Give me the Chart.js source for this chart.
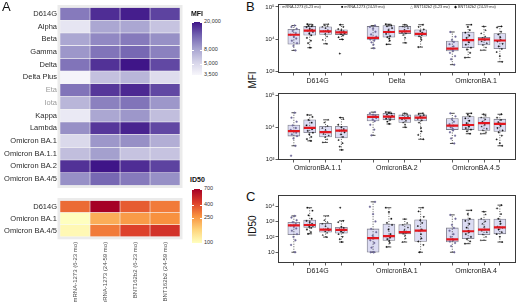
<!DOCTYPE html>
<html>
<head>
<meta charset="utf-8">
<script src="https://cdn.jsdelivr.net/npm/chart.js@4.4.1/dist/chart.umd.min.js"></script>
<style>
  html,body{margin:0;padding:0;background:#fff;}
  #wrap{position:relative;width:520px;height:302px;overflow:hidden;font-family:"Liberation Sans",Arial,sans-serif;color:#222;}
  canvas{position:absolute;}
  .t{position:absolute;white-space:nowrap;line-height:1;}
  .lab{font-size:13px;color:#111;}
  .ytit{font-size:10px;color:#111;transform:translate(-50%,-50%) rotate(-90deg);}
  .ltit{font-size:7px;font-weight:bold;color:#111;}
  .ctk{font-size:5.5px;color:#333;}
  .leg{font-size:3.8px;color:#333;top:5.5px;}
  .cbar{position:absolute;width:10px;}
</style>
</head>
<body>
<div id="wrap">
  <canvas id="hmMfi" width="186" height="193" style="left:0;top:0"></canvas>
  <canvas id="hmId" width="186" height="109" style="left:0;top:193px"></canvas>
  <canvas id="bTop" width="262" height="84" style="left:258px;top:0"></canvas>
  <canvas id="bBot" width="262" height="84" style="left:258px;top:89px"></canvas>
  <canvas id="cBox" width="262" height="85" style="left:258px;top:191px"></canvas>

  <div class="t lab" style="left:2px;top:0">A</div>
  <div class="t lab" style="left:246px;top:0">B</div>
  <div class="t lab" style="left:246px;top:190px">C</div>
  <div class="t ytit" style="left:253px;top:80px">MFI</div>
  <div class="t ytit" style="left:253px;top:226px">ID50</div>

  <div class="t ltit" style="left:191px;top:10px">MFI</div>
  <div class="cbar" id="barMfi" style="left:192px;top:22px;height:53px"></div>
  <div class="t ltit" style="left:190px;top:176px">ID50</div>
  <div class="cbar" id="barId" style="left:192px;top:189px;height:54px"></div>
  <div id="cbTicks"></div>

  <div class="t leg" style="left:279px"><span style="color:#8a86a8">○</span> mRNA-1273 (6-23 mo)</div>
  <div class="t leg" style="left:341px"><span style="color:#111">■</span> mRNA-1273 (24-59 mo)</div>
  <div class="t leg" style="left:410px"><span style="color:#777">△</span> BNT162b2 (6-23 mo)</div>
  <div class="t leg" style="left:454px"><span style="color:#111">◆</span> BNT162b2 (24-59 mo)</div>
</div>
<script>
const FONT = '"Liberation Sans", Arial, sans-serif';
Chart.defaults.font.family = FONT;

/* ---- panel A data ---- */
const GROUPS = ['mRNA-1273 (6-23 mo)', 'mRNA-1273 (24-59 mo)', 'BNT162b2 (6-23 mo)', 'BNT162b2 (24-59 mo)'];
const MFI_ROWS = ['D614G', 'Alpha', 'Beta', 'Gamma', 'Delta', 'Delta Plus', 'Eta', 'Iota', 'Kappa', 'Lambda',
  'Omicron BA.1', 'Omicron BA.1.1', 'Omicron BA.2', 'Omicron BA.4/5'];
const MFI_VALS = [
  [11000, 17500, 19000, 15500],
  [4300, 8000, 8000, 6200],
  [8000, 10000, 11000, 9500],
  [9000, 11500, 12500, 10500],
  [11500, 17000, 21000, 15000],
  [3600, 6300, 7000, 4800],
  [11500, 16500, 18000, 15000],
  [7000, 10500, 11500, 9000],
  [4100, 8000, 9000, 6500],
  [9500, 16500, 18500, 15000],
  [5000, 9000, 9500, 7500],
  [6500, 8500, 6200, 6200],
  [17000, 20000, 17500, 15500],
  [9500, 12500, 11000, 9500]
];
const GREY_ROWS = ['Eta', 'Iota'];
const ID50_ROWS = ['D614G', 'Omicron BA.1', 'Omicron BA.4/5'];
const ID50_VALS = [
  [330, 700, 360, 300],
  [100, 215, 245, 265],
  [108, 300, 420, 470]
];
const MFI_TICKS = [20000, 8000, 5000, 3500];
const MFI_LABELS = ['20,000', '8,000', '5,000', '3,500'];
const ID50_TICKS = [700, 400, 250, 100];

/* ---- panel B/C data: [min, q1, median, q3, max] per box, 4 boxes per variant ---- */
const B1_NAMES = ['D614G', 'Delta', 'OmicronBA.1'];
const B1_BOX = [
  [4490, 7050, 13700, 20100, 26500], [5450, 13200, 18400, 24800, 29000], [7200, 14000, 17500, 24300, 29000], [9800, 13900, 16300, 19600, 28000],
  [5240, 9800, 11000, 24800, 26500], [6900, 11500, 16700, 26500, 29000], [7700, 14900, 17500, 24800, 28000], [5700, 12300, 14500, 19600, 28000],
  [1630, 4330, 5080, 8700, 16700], [2700, 5450, 9300, 16700, 28000], [4560, 6600, 9800, 11500, 24800], [2000, 5080, 9100, 14900, 24800]
];
const B1_PTS = [
  [26500, 24000, 21000, 18000, 15500, 13700, 12000, 10500, 9000, 7500, 6200, 4490],
  [29000, 27500, 26000, 25000, 23500, 21000, 19500, 18400, 17000, 15000, 13200, 11000, 9000, 7500, 5450],
  [29000, 27000, 25500, 24000, 22000, 19000, 17500, 16000, 14500, 12000, 9500, 7200],
  [28000, 24000, 20500, 19000, 17500, 16300, 15200, 14300, 13000, 11500, 9800, 3590],
  [26500, 24000, 21000, 17000, 14000, 12000, 11000, 10300, 9800, 9000, 8000, 6800, 5240],
  [29000, 27500, 26500, 25000, 22000, 19000, 16700, 14500, 12500, 11500, 10500, 9000, 6900],
  [28000, 26000, 24500, 22000, 19500, 17500, 16000, 15000, 13500, 11000, 7700],
  [28000, 24000, 20000, 18000, 16000, 14500, 13500, 12300, 11000, 9500, 5700],
  [16700, 12000, 9500, 8200, 7000, 6000, 5100, 4700, 4300, 3800, 3000, 2400, 1630],
  [28000, 24000, 19000, 16000, 13000, 11000, 9300, 8000, 6800, 5500, 4800, 3800, 2700],
  [24800, 19000, 15000, 12000, 11000, 10000, 9400, 8500, 7500, 6600, 5500, 4560],
  [24800, 23000, 17000, 14000, 11500, 9500, 8500, 7200, 6000, 5000, 4000, 3000, 2000]
];
const B2_NAMES = ['OmicronBA.1.1', 'OmicronBA.2', 'OmicronBA.4.5'];
const B2_BOX = [
  [2650, 5330, 7560, 11800, 28500], [3770, 6780, 9600, 17100, 24300], [3370, 4980, 7050, 10700, 17100], [1970, 4640, 7900, 10700, 20100],
  [5600, 15900, 21100, 25500, 29800], [12700, 17100, 21500, 27300, 29800], [10000, 14200, 19200, 24300, 27300], [4240, 15900, 20100, 24300, 27300],
  [3130, 8500, 11300, 18700, 27300], [6300, 8500, 11800, 21500, 27300], [6300, 7960, 13500, 20100, 25500], [2650, 7400, 12700, 17900, 25500]
];
const B2_PTS = [
  [28500, 20000, 15000, 11500, 9500, 8300, 7500, 6800, 6000, 5300, 4500, 2650, 1300],
  [24300, 21000, 17000, 14000, 11500, 9600, 8700, 7800, 6800, 6000, 5000, 4300, 3770],
  [17100, 14000, 11000, 9500, 8200, 7000, 6200, 5500, 4900, 4200, 3370],
  [20100, 18000, 12000, 10000, 8800, 7900, 7000, 6000, 5000, 4000, 3200, 2500, 1970],
  [29800, 27500, 25000, 23000, 21100, 19500, 17500, 15500, 12000, 8500, 5600],
  [29800, 28500, 27000, 25000, 23000, 21500, 20000, 18500, 17000, 15000, 12700],
  [27300, 25500, 24000, 22000, 20000, 19000, 17500, 16000, 14000, 12000, 10000],
  [27300, 26000, 24000, 22000, 20100, 18500, 16500, 14000, 9500, 7500, 5800, 4240],
  [27300, 22000, 18000, 15000, 12500, 11300, 10000, 9000, 8000, 7000, 5500, 4500, 3130],
  [27300, 25000, 22000, 19000, 16000, 13500, 11800, 10500, 9500, 8500, 7500, 6300],
  [25500, 23000, 20000, 17500, 15000, 13500, 12000, 10500, 9000, 8000, 7000, 6300],
  [25500, 20000, 17000, 14500, 12700, 11000, 9500, 8000, 7000, 5500, 4200, 3200, 2650]
];
const C_NAMES = ['D614G', 'OmicronBA.1', 'OmicronBA.4'];
const C_BOX = [
  [10, 136, 550, 890, 2300], [157, 415, 590, 1230, 7800], [96, 200, 296, 746, 2300], [46, 172, 283, 415, 1100],
  [10, 10, 83, 327, 18800], [22, 59, 111, 680, 7800], [46, 157, 200, 616, 1420], [10, 51, 255, 1280, 7800],
  [10, 46, 68, 380, 2670], [36, 76, 231, 1420, 5300], [59, 136, 296, 1420, 4340], [46, 157, 415, 1420, 11500]
];
const C_PTS = [
  [2300, 1800, 1200, 900, 700, 550, 450, 350, 250, 150, 100, 60, 30, 10],
  [7800, 5000, 2500, 1500, 1100, 900, 700, 600, 520, 450, 380, 300, 200, 157],
  [2300, 1200, 900, 700, 500, 350, 300, 260, 220, 180, 130, 96],
  [7800, 1100, 900, 450, 380, 300, 260, 220, 190, 150, 100, 70, 46],
  [18800, 9000, 3000, 1000, 330, 200, 120, 85, 60, 40, 20, 10, 10, 10],
  [7800, 4000, 1500, 800, 600, 300, 150, 110, 90, 70, 55, 40, 22],
  [1420, 800, 600, 400, 280, 220, 200, 180, 160, 120, 80, 46],
  [7800, 4500, 2000, 1200, 800, 500, 300, 250, 150, 80, 50, 30, 10],
  [2670, 1500, 600, 380, 250, 150, 100, 70, 60, 50, 40, 25, 10],
  [5300, 3000, 1500, 1100, 700, 400, 250, 200, 150, 100, 70, 50, 36],
  [4340, 2800, 1500, 1000, 700, 450, 300, 250, 200, 140, 100, 59],
  [11500, 7000, 3000, 1500, 1000, 700, 450, 400, 300, 200, 150, 100, 46]
];

/* ---- colour scales ---- */
const PURPLES = ['#f7f6fb', '#d4d2e8', '#a6a2cf', '#7363b1', '#3f1588'];
const YLORRD = ['#ffffbf', '#fed37a', '#f8913f', '#dc3d2a', '#a50026'];
function hex(h){ return [1,3,5].map(i=>parseInt(h.substr(i,2),16)); }
function ramp(stops, f){
  f = Math.max(0, Math.min(1, f));
  const p = f*(stops.length-1), i = Math.min(stops.length-2, Math.floor(p)), t = p-i;
  const a = hex(stops[i]), b = hex(stops[i+1]);
  return 'rgb('+a.map((v,k)=>Math.round(v+(b[k]-v)*t)).join(',')+')';
}
const logFrac = (v, lo, hi) => (Math.log10(v)-Math.log10(lo))/(Math.log10(hi)-Math.log10(lo));
const mfiColor = v => ramp(PURPLES, logFrac(v, 3500, 20000));
const idColor = v => ramp(YLORRD, logFrac(v, 100, 700));

/* ---- colour bars (legend) ---- */
function colorBar(id, stops, ticks, labels, lo, hi){
  const el = document.getElementById(id);
  el.style.background = 'linear-gradient(to top,' + stops.join(',') + ')';
  const top = parseFloat(el.style.top), h = parseFloat(el.style.height), left = parseFloat(el.style.left);
  const box = document.getElementById('cbTicks');
  ticks.forEach((v,i)=>{
    const y = top + (1-logFrac(v, lo, hi))*h;
    const d = document.createElement('div');
    d.className = 't ctk'; d.style.left = (left+12)+'px'; d.style.top = (y-2.8)+'px';
    d.textContent = labels[i]; box.appendChild(d);
    ['0','8'].forEach(dx=>{
      const m = document.createElement('div');
      m.style.cssText = 'position:absolute;width:2px;height:0.6px;background:#fff;left:'+(left+ +dx)+'px;top:'+y+'px';
      box.appendChild(m);
    });
  });
}
colorBar('barMfi', PURPLES, MFI_TICKS, MFI_LABELS, 3500, 20000);
colorBar('barId', YLORRD, ID50_TICKS, ID50_TICKS.map(String), 100, 700);

/* ---- heatmaps ---- */
const panelBg = {id:'panelBg', beforeDatasetsDraw(c){
  const a = c.chartArea, x = c.ctx;
  x.save(); x.fillStyle = '#ebebeb';
  x.fillRect(a.left-2.5, a.top-2.5, a.right-a.left+5, a.bottom-a.top+5); x.restore();
}};

function heatChart(id, rows, vals, colorOf, pad, xH){
  return new Chart(document.getElementById(id), {
    type:'bar',
    data:{labels:rows, datasets:GROUPS.map((g,c)=>({
      label:g, data:rows.map(()=>[c, c+1]),
      backgroundColor:vals.map(r=>colorOf(r[c])),
      borderColor:'rgba(255,255,255,0.45)', borderWidth:0.6, borderSkipped:false,
      grouped:false, barPercentage:1, categoryPercentage:1
    }))},
    options:{
      indexAxis:'y', responsive:false, animation:false, events:[],
      layout:{padding:pad},
      plugins:{legend:{display:false}, tooltip:{enabled:false}},
      scales:{
        y:{type:'category', border:{display:false}, grid:{display:false, drawTicks:false},
           afterFit:s=>{ s.width = 60; },
           ticks:{padding:3, font:{size:7.5}, color:c=>GREY_ROWS.includes(rows[c.index])?'#9a9a9a':'#2a2a2a'}},
        x:{type:'linear', min:0, max:4, display:xH>0, border:{display:false}, grid:{display:false, drawTicks:false},
           afterBuildTicks:s=>{ s.ticks = GROUPS.map((g,i)=>({value:i+0.5})); },
           afterFit:s=>{ s.height = xH; s.paddingLeft = s.paddingRight = 0; },
           ticks:{autoSkip:false, minRotation:90, maxRotation:90, padding:5, font:{size:6}, color:'#4d4d4d',
                  callback:(v,i)=>GROUPS[i]}}
      }
    },
    plugins:[panelBg]
  });
}
heatChart('hmMfi', MFI_ROWS, MFI_VALS, mfiColor, {top:1.5, right:6, bottom:4, left:0}, 0);
heatChart('hmId', ID50_ROWS, ID50_VALS, idColor, {top:3.3, right:6, bottom:0, left:0}, 65.2);

/* ---- box plots ---- */
const OFFS = [-0.3, -0.1, 0.1, 0.3], HW = 0.075, CW = 0.03;
const JIT = [0.01,-0.03,0.035,-0.015,0.025,-0.04,0,0.03,-0.025,0.04,-0.005,0.02,-0.035,0.015,-0.02,0.005];
const PT_STYLE = ['circle', 'rect', 'triangle', 'rectRot'];
const PT_COLOR = ['#6f6a99', '#111', '#222', '#111'];
const SUP = {10:'10', 100:'10\u00b2', 1000:'10\u00b3', 10000:'10\u2074', 100000:'10\u2075'};

const framePlugin = {id:'frame', afterDatasetsDraw(c){
  const a = c.chartArea, x = c.ctx;
  x.save(); x.strokeStyle = '#3a3a3a'; x.lineWidth = 1;
  x.strokeRect(Math.round(a.left)+0.5, Math.round(a.top)+0.5, Math.round(a.right-a.left)-1, Math.round(a.bottom-a.top)-1);
  x.restore();
}};

function boxChart(id, names, boxes, pts, yMin, yMax, yTicks, xH){
  const pos = boxes.map((b,i)=>Math.floor(i/4)+1+OFFS[i%4]);
  const med = [], wh = [], cap = [];
  boxes.forEach((b,i)=>{
    const x = pos[i];
    med.push({x:x-HW, y:b[2]}, {x:x+HW, y:b[2]}, {x:x, y:null});
    wh.push({x:x, y:b[0]}, {x:x, y:b[4]}, {x:x, y:null});
    cap.push({x:x-CW, y:b[0]}, {x:x+CW, y:b[0]}, {x:x, y:null}, {x:x-CW, y:b[4]}, {x:x+CW, y:b[4]}, {x:x, y:null});
  });
  const dots = [0,1,2,3].map(s=>({
    type:'scatter', order:1,
    data:pts.flatMap((arr,i)=>i%4!==s ? [] : arr.map((v,j)=>({x:pos[i]+JIT[(j+i)%JIT.length], y:v}))),
    pointStyle:PT_STYLE[s], pointRadius:0.9, backgroundColor:PT_COLOR[s], borderColor:PT_COLOR[s], borderWidth:0.3
  }));
  const centers = names.map((n,g)=>g+1);
  return new Chart(document.getElementById(id), {
    type:'bar',
    data:{datasets:[
      {type:'line', order:0, data:med, borderColor:'#e3161e', borderWidth:2.2, pointRadius:0, spanGaps:false},
      ...dots,
      {type:'line', order:2, data:cap, borderColor:'#222', borderWidth:0.8, pointRadius:0, spanGaps:false},
      {type:'line', order:3, data:wh, borderColor:'#333', borderWidth:0.8, borderDash:[1,1.5], pointRadius:0, spanGaps:false},
      {type:'bar', order:4, data:boxes.map((b,i)=>({x:pos[i], y:[b[1], b[3]]})), barThickness:12,
       backgroundColor:'#dcdcf3', borderColor:'#7a7a86', borderWidth:0.8, borderSkipped:false}
    ]},
    options:{
      responsive:false, animation:false, events:[],
      layout:{padding:{top:2, right:1, left:0, bottom:0}},
      plugins:{legend:{display:false}, tooltip:{enabled:false}},
      scales:{
        x:{type:'linear', min:0.5, max:3.5, offset:false, border:{display:false},
           afterBuildTicks:s=>{ s.ticks = pos.concat(centers).sort((a,b)=>a-b).map(v=>({value:v})); },
           afterFit:s=>{ s.height = xH; s.paddingLeft = s.paddingRight = 0; },
           grid:{drawOnChartArea:false, offset:false, tickLength:2.5, tickWidth:0.8,
                 tickColor:c=>(c.tick && Number.isInteger(c.tick.value)) ? 'rgba(0,0,0,0)' : '#333'},
           ticks:{autoSkip:false, minRotation:0, maxRotation:0, padding:1, color:'#222', font:{size:7},
                  callback:v=>Number.isInteger(v) ? names[v-1] : ''}},
        y:{type:'logarithmic', min:yMin, max:yMax, border:{display:false},
           afterBuildTicks:s=>{ s.ticks = yTicks.map(v=>({value:v})); },
           afterFit:s=>{ s.width = 20; s.paddingTop = s.paddingBottom = 0; },
           grid:{drawOnChartArea:false, tickLength:2.5, tickWidth:0.8, tickColor:'#333'},
           ticks:{padding:1, color:'#222', font:{size:6}, callback:v=>SUP[v] || ''}}
      }
    },
    plugins:[framePlugin]
  });
}
boxChart('bTop', B1_NAMES, B1_BOX, B1_PTS, 900, 120000, [1000, 10000, 100000], 11);
boxChart('bBot', B2_NAMES, B2_BOX, B2_PTS, 955, 115000, [1000, 10000, 100000], 13);
boxChart('cBox', C_NAMES, C_BOX, C_PTS, 2, 50000, [10, 100, 1000, 10000], 13);
</script>
</body>
</html>
